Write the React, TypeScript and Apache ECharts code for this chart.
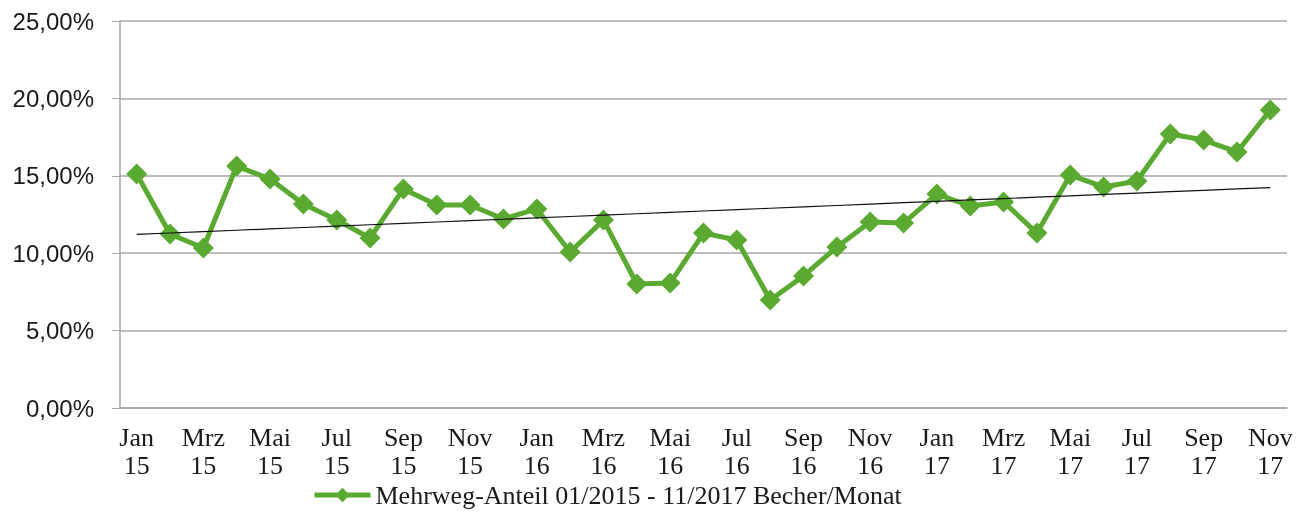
import React, { useEffect, useRef } from "react";
import * as echarts from "echarts";

const months = ["Jan", "Feb", "Mrz", "Apr", "Mai", "Jun", "Jul", "Aug", "Sep", "Okt", "Nov", "Dez"];
const years = ["15", "16", "17"];
const categories: string[] = [];
years.forEach((y) => months.forEach((m) => categories.push(m + "\n" + y)));
const cats = categories.slice(0, 35);

const seriesName = "Mehrweg-Anteil 01/2015 - 11/2017 Becher/Monat";
const values = [
  15.12, 11.24, 10.34, 15.63, 14.79, 13.18, 12.14, 10.98, 14.15, 13.11, 13.11, 12.21,
  12.86, 10.08, 12.14, 8.01, 8.07, 11.3, 10.85, 6.98, 8.53, 10.4, 12.02, 11.95,
  13.82, 13.05, 13.31, 11.3, 15.05, 14.28, 14.66, 17.7, 17.31, 16.54, 19.25,
];

// linear trend line (least squares) derived from the values
function trend(v: number[]): number[] {
  const n = v.length;
  let sx = 0, sy = 0, sxx = 0, sxy = 0;
  v.forEach((y, i) => { sx += i; sy += y; sxx += i * i; sxy += i * y; });
  const b = (n * sxy - sx * sy) / (n * sxx - sx * sx);
  const a = (sy - b * sx) / n;
  return v.map((_, i) => +(a + b * i).toFixed(3));
}
const trendValues = trend(values);

export default function App() {
  const ref = useRef<HTMLDivElement>(null);
  useEffect(() => {
    const chart = echarts.init(ref.current!, null, { renderer: "svg" });
    const green = "#5aaa32";
    const grey = "#a6a6a6";
    chart.setOption({
      animation: false,
      grid: { left: 120, right: 16, top: 21, bottom: 104 },
      legend: {
        top: 482,
        left: 312,
        padding: 0,
        data: [seriesName],
        itemWidth: 56,
        itemHeight: 18,
        lineStyle: { width: 5, color: green },
        textStyle: { fontFamily: "Liberation Serif", fontSize: 26, lineHeight: 26, color: "#1a1a1a" },
      },
      xAxis: {
        type: "category",
        data: cats,
        boundaryGap: true,
        axisLine: { lineStyle: { color: grey, width: 1.5 } },
        axisTick: { interval: 1, length: 7, lineStyle: { color: grey } },
        axisLabel: {
          interval: 1,
          fontFamily: "Liberation Serif",
          fontSize: 26,
          lineHeight: 28,
          color: "#1a1a1a",
          margin: 15,
        },
        splitLine: { show: false },
      },
      yAxis: {
        type: "value",
        min: 0,
        max: 25,
        interval: 5,
        axisLine: { show: true, lineStyle: { color: grey, width: 1.5 } },
        axisTick: { show: true, length: 8, lineStyle: { color: grey } },
        axisLabel: {
          fontFamily: "Liberation Sans",
          fontSize: 24,
          color: "#1a1a1a",
          margin: 26,
          formatter: (v: number) => v.toFixed(2).replace(".", ",") + "%",
        },
        splitLine: { lineStyle: { color: grey, width: 1.5 } },
      },
      series: [
        {
          name: seriesName,
          type: "line",
          data: values,
          symbol: "diamond",
          symbolSize: 21,
          lineStyle: { color: green, width: 5 },
          itemStyle: { color: green },
          z: 3,
        },
        {
          name: "Trend",
          type: "line",
          data: trendValues,
          symbol: "none",
          lineStyle: { color: "#111", width: 1.2 },
          z: 4,
        },
      ],
    });
    return () => chart.dispose();
  }, []);
  return (
    <div
      ref={ref}
      style={{ position: "fixed", left: 0, top: 0, width: 1303, height: 512 }}
    />
  );
}
